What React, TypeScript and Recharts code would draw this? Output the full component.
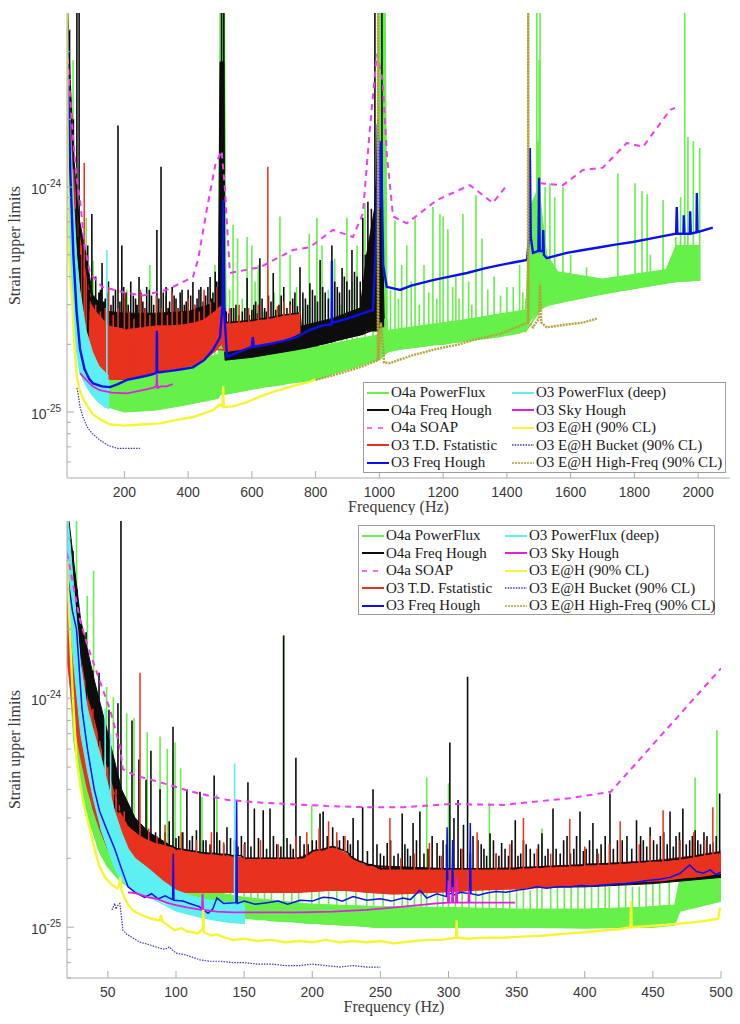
import React from "react";
import { Area, ComposedChart, Legend, Line, XAxis, YAxis } from "recharts";

type P = [number, number | null];
type B = [number, number, number]; // [Hz, low, high]

// strain upper limits are kept in units of 1e-25
const fullTicks = [200, 400, 600, 800, 1000, 1200, 1400, 1600, 1800, 2000];
const zoomTicks = [50, 100, 150, 200, 250, 300, 350, 400, 450, 500];
const strainTicks = [0.6, 0.7, 0.8, 0.9, 1, 2, 3, 4, 5, 6, 7, 8, 9, 10, 20, 30, 40, 50];
const decadeExp: Record<number, string> = { 1: "-25", 10: "-24" };

const legendLeft = ["O4a PowerFlux", "O4a Freq Hough", "O4a SOAP", "O3 T.D. Fstatistic", "O3 Freq Hough"];
const legendRight = ["O3 PowerFlux (deep)", "O3 Sky Hough", "O3 E@H (90% CL)", "O3 E@H Bucket (90% CL)", "O3 E@H High-Freq (90% CL)"];

// ---------- full band, 20-2100 Hz ----------
const fullPowerFluxBand: B[] = [
  [20, 25, 70], [30, 6, 25], [40, 3.3, 12], [60, 2.0, 5], [80, 1.55, 3.0], [100, 1.3, 2.3], [150, 1.05, 1.7],
  [200, 1.0, 1.55], [300, 1.02, 1.6], [400, 1.08, 1.7], [495, 1.15, 1.8], [500, 1.2, 80], [514, 1.2, 80],
  [520, 1.2, 1.85], [650, 1.3, 1.85], [800, 1.4, 1.95], [995, 1.7, 2.2], [1000, 1.7, 80], [1018, 1.8, 80],
  [1025, 1.85, 2.3], [1065, 1.9, 2.35], [1250, 2.05, 2.55], [1460, 2.3, 2.85], [1470, 2.5, 8], [1500, 2.8, 10],
  [1525, 3.0, 5], [1560, 3.05, 4.2], [1700, 3.35, 3.9], [1900, 3.75, 4.3], [1930, 3.8, 5.5], [2005, 3.85, 5.5],
];
const fullPowerFlux: B[] = [
  [20, 25, 80], [22, 25, 40], [24, 20, 80], [27, 12, 20], [30, 8, 30], [34, 5, 12], [39, 4, 36.6], [42, 3.6, 10],
  [50, 2.6, 7], [60, 2.2, 6], [64, 2.0, 4], [80, 1.6, 7.3], [102, 1.35, 4.7], [150, 1.15, 1.7], [208, 1.1, 3.5],
  [280, 1.1, 4.5], [330, 1.12, 3.3], [400, 1.15, 1.7], [440, 1.15, 2.8], [484, 1.18, 4.5], [495, 1.2, 1.8],
  [530, 1.22, 3.5], [541, 1.25, 6.8], [555, 1.25, 5.9], [570, 1.27, 3.2], [585, 1.27, 6.0], [600, 1.28, 5.5],
  [610, 1.28, 3.8], [620, 1.28, 4.5], [635, 1.3, 2.8], [650, 1.3, 4.3], [670, 1.31, 3.4], [688, 1.32, 7.4],
  [700, 1.33, 3.0], [720, 1.35, 5.0], [740, 1.36, 3.6], [760, 1.37, 2.9], [780, 1.38, 6.2], [804, 1.4, 7.3],
  [820, 1.42, 5.5], [840, 1.45, 3.5], [860, 1.5, 4.8], [880, 1.52, 3.0], [898, 1.55, 7.3], [915, 1.57, 3.8],
  [930, 1.6, 5.5], [955, 1.65, 8.5], [980, 1.7, 5.0], [1025, 1.85, 2.5], [1035, 1.88, 3.5], [1049, 1.9, 7.1],
  [1060, 1.9, 3.2], [1070, 1.92, 4.5], [1086, 1.93, 5.5], [1100, 1.94, 3.8], [1112, 1.95, 7.3], [1125, 1.96, 3.0],
  [1140, 1.97, 4.5], [1155, 1.99, 3.4], [1168, 2.0, 8.15], [1180, 2.0, 3.2], [1190, 2.0, 7.6], [1200, 2.0, 7.4],
  [1215, 2.02, 6.5], [1230, 2.04, 3.6], [1240, 2.05, 4.0], [1250, 2.05, 3.2], [1262, 2.07, 7.6], [1280, 2.08, 3.8],
  [1290, 2.09, 3.0], [1303, 2.1, 9.2], [1322, 2.12, 5.9], [1340, 2.13, 3.5], [1360, 2.15, 4.0], [1380, 2.17, 3.3],
  [1400, 2.2, 3.6], [1420, 2.22, 3.6], [1440, 2.25, 4.5], [1450, 2.28, 3.4], [1460, 2.3, 3.2], [1494, 2.7, 80],
  [1497, 2.75, 16], [1501, 2.8, 36.6], [1504, 2.85, 80], [1520, 2.95, 10], [1535, 3.0, 10.4], [1550, 3.03, 9],
  [1576, 3.1, 10], [1600, 3.15, 5], [1650, 3.25, 4.4], [1748, 3.45, 11.5], [1802, 3.55, 10.4], [1824, 3.6, 9.6],
  [1840, 3.62, 9.3], [1850, 3.65, 5], [1890, 3.72, 8.75], [1930, 3.8, 6], [1945, 3.82, 9], [1958, 3.83, 80],
  [1968, 3.84, 16.7], [1985, 3.85, 16], [2005, 3.85, 14.9],
];
const fullFreqHoughO4Band: B[] = [
  [20, 20, 70], [30, 8, 30], [40, 4, 15], [50, 2.8, 9], [60, 2.4, 7], [80, 2.1, 5], [100, 1.9, 3.3],
  [150, 1.8, 2.8], [200, 1.8, 2.75], [300, 1.8, 2.75], [400, 1.8, 2.8], [495, 2.0, 3.1], [500, 2.2, 36],
  [512, 2.2, 36], [516, 1.7, 2.2], [600, 1.75, 2.25], [750, 1.9, 2.4], [850, 2.05, 2.6], [940, 2.2, 2.9],
  [960, 2.3, 5], [985, 2.3, 8], [995, 2.3, 14], [1005, 2.4, 15], [1012, 2.4, 4], [1015, 2.4, 2.6],
];
const fullFreqHoughO4Tall: B[] = [
  [20, 20, 80], [24, 15, 30], [28, 10, 50], [33, 6, 15], [40, 4, 20], [45, 3.5, 8], [51, 2.8, 80], [54, 2.7, 6],
  [58, 2.5, 80], [62, 2.4, 5], [70, 2.3, 6], [75, 2.2, 4], [85, 2.1, 5.5], [90, 3.3, 3.5], [98, 3.05, 7.6],
  [110, 2.85, 4], [120, 2.75, 3.4], [130, 2.65, 4.6], [140, 2.55, 3.2], [150, 2.45, 3.8], [165, 2.42, 3.3],
  [180, 2.4, 18.8], [192, 2.38, 5.5], [205, 2.35, 3.4], [220, 2.37, 3.8], [235, 2.38, 3.2], [246, 2.4, 3.98],
  [258, 2.4, 3.1], [270, 2.42, 3.6], [285, 2.43, 3.3], [302, 2.45, 6.45], [315, 2.45, 12.3], [331, 2.45, 3.6],
  [342, 2.45, 3.1], [350, 2.45, 3.6], [362, 2.46, 3.2], [375, 2.47, 3.4], [388, 2.48, 3.0], [400, 2.5, 3.5],
  [415, 2.52, 3.78], [428, 2.55, 3.2], [440, 2.58, 3.6], [455, 2.65, 3.3], [469, 2.75, 3.98], [478, 2.8, 3.4],
  [485, 2.85, 4.2], [495, 2.95, 3.6], [505, 3.0, 80], [508, 3.0, 30], [512, 3.0, 80], [520, 2.5, 2.8],
  [535, 2.5, 2.9], [550, 2.52, 3.0], [570, 2.53, 2.8], [585, 2.54, 3.94], [600, 2.55, 2.85], [612, 2.57, 3.1],
  [625, 2.59, 4.83], [640, 2.6, 2.9], [652, 2.62, 3.3], [667, 2.64, 4.15], [685, 2.67, 3.0], [700, 2.7, 3.6],
  [720, 2.72, 3.1], [735, 2.74, 3.4], [751, 2.75, 4.4], [768, 1.93, 3.2], [782, 1.95, 3.74], [798, 1.97, 3.3],
  [814, 2.0, 4.74], [830, 2.02, 3.4], [851, 2.05, 5.5], [868, 2.1, 3.6], [883, 2.12, 4.37], [898, 2.15, 3.8],
  [914, 2.18, 5.25], [930, 2.2, 4.0], [948, 2.22, 7.3], [956, 2.25, 5.0], [964, 2.27, 8.6], [975, 2.3, 8],
  [986, 2.3, 80], [990, 2.3, 10], [995, 2.3, 20], [1000, 2.35, 12], [1008, 2.4, 80], [1012, 2.4, 4],
];
const fullFreqHoughO4Dense: B[] = [
  [104, 2.95, 3.3], [115, 2.8, 3.1], [125, 2.7, 3.5], [135, 2.6, 3.1], [145, 2.5, 3.4], [158, 2.43, 3.0],
  [172, 2.41, 3.5], [186, 2.39, 3.1], [198, 2.36, 3.6], [212, 2.36, 3.0], [228, 2.38, 3.3], [240, 2.39, 3.0],
  [252, 2.4, 3.4], [264, 2.41, 2.9], [278, 2.43, 3.5], [292, 2.44, 3.0], [308, 2.45, 3.2], [322, 2.45, 3.4],
  [337, 2.45, 2.9], [356, 2.46, 3.3], [368, 2.47, 2.9], [381, 2.48, 3.5], [394, 2.49, 3.1], [408, 2.51, 3.3],
  [421, 2.53, 3.0], [434, 2.56, 3.5], [447, 2.6, 3.1], [462, 2.7, 3.6], [473, 2.77, 3.2], [490, 2.9, 3.8],
  [528, 2.5, 2.75], [543, 2.51, 2.9], [560, 2.52, 2.7], [578, 2.54, 2.9], [592, 2.55, 2.7], [606, 2.56, 3.0],
  [618, 2.58, 2.75], [632, 2.6, 3.2], [646, 2.61, 2.8], [660, 2.63, 3.1], [675, 2.66, 2.85], [692, 2.69, 3.3],
  [710, 2.71, 2.9], [728, 2.73, 3.2], [743, 2.75, 2.95], [760, 1.92, 3.4], [775, 1.94, 3.0], [790, 1.96, 3.5],
  [806, 1.98, 3.1], [822, 2.01, 3.6], [840, 2.04, 3.2], [860, 2.08, 3.8], [875, 2.11, 3.4], [890, 2.13, 4.0],
  [906, 2.16, 3.5], [922, 2.19, 4.2], [940, 2.21, 3.8],
];
const fullSoap: P[] = [
  [20, 42], [30, 25], [40, 16], [50, 11], [61, 8.75], [75, 5.5], [92, 4.15], [130, 3.6], [208, 3.38],
  [258, 3.3], [333, 3.49], [415, 3.98], [431, 4.74], [459, 8.0], [485, 12.5], [505, 14.5], [515, 10],
  [531, 4.15], [625, 4.4], [729, 5.25], [782, 5.4], [854, 6.45], [917, 6.0], [948, 7.6], [970, 18], [992, 39],
  [1010, 30], [1024, 13.6], [1043, 7.4], [1086, 6.9], [1180, 8.75], [1284, 10.2], [1356, 8.5], [1400, 10.2],
  [1450, null], [1504, 10.4], [1576, 10.2], [1638, 11.9], [1701, 12.2], [1776, 15.7], [1827, 15.1],
  [1912, 22], [1927, 22.5],
];
const fullFstatBand: B[] = [
  [20, 12, 45], [30, 5.5, 20], [40, 3.5, 12], [50, 2.6, 8], [60, 2.2, 6], [80, 1.6, 4.0], [100, 1.45, 3.0],
  [150, 1.4, 2.45], [200, 1.4, 2.35], [250, 1.45, 2.4], [300, 1.5, 2.45], [350, 1.55, 2.45], [400, 1.6, 2.5],
  [450, 1.7, 2.6], [490, 1.9, 2.9], [505, 2.0, 3.0], [515, 1.85, 2.5], [600, 1.95, 2.55], [700, 2.1, 2.7],
  [750, 2.25, 2.75],
];
const fullFstat: B[] = [
  [20, 12, 45], [40, 3.5, 12], [74, 1.7, 12.8], [110, 1.45, 3.0], [125, 1.42, 2.8], [140, 1.4, 2.9],
  [150, 1.4, 3.6], [165, 1.4, 2.7], [180, 1.4, 2.9], [200, 1.4, 3.4], [215, 1.4, 2.8], [230, 1.42, 2.6],
  [250, 1.45, 3.5], [265, 1.46, 2.9], [280, 1.48, 2.7], [300, 1.5, 3.3], [318, 1.5, 2.9], [335, 1.53, 2.7],
  [350, 1.55, 3.4], [365, 1.56, 2.9], [380, 1.58, 2.8], [400, 1.6, 3.2], [420, 1.62, 3.0], [435, 1.66, 2.8],
  [450, 1.7, 3.5], [470, 1.8, 3.1], [490, 1.9, 3.6], [530, 1.88, 2.9], [560, 1.9, 3.0], [590, 1.93, 2.9],
  [620, 1.97, 3.0], [650, 2.0, 12.3], [680, 2.05, 2.95], [700, 2.1, 3.1], [720, 2.15, 3.0], [750, 2.25, 2.8],
];
const fullFreqHoughO3: P[] = [
  [20, 50], [25, 25], [30, 12], [40, 5], [50, 2.8], [61, 1.9], [75, 1.55], [90, 1.4], [102, 1.34], [130, 1.3],
  [155, 1.29], [180, 1.33], [208, 1.39], [240, 1.42], [270, 1.45], [295, 1.48], [301, 1.5], [302, 2.3],
  [303, 1.5], [340, 1.52], [380, 1.55], [415, 1.58], [450, 1.7], [478, 1.89], [500, 2.15], [508, 3],
  [510, 8.75], [512, 3], [522, 1.76], [560, 1.85], [600, 1.95], [603, 2.15], [606, 1.95], [650, 2.0],
  [700, 2.07], [740, 2.15], [782, 2.32], [820, 2.42], [850, 2.45], [851, 4.7], [852, 2.49], [900, 2.6],
  [950, 2.75], [980, 2.84], [990, 6], [995, 19], [1000, 8], [1005, 16], [1012, 4.5], [1023, 3.6], [1065, 3.49],
  [1100, 3.65], [1168, 3.86], [1220, 4.0], [1275, 4.15], [1330, 4.35], [1378, 4.5], [1420, 4.62], [1463, 4.74],
  [1470, 6], [1472, 14.9], [1475, 6], [1482, 5.1], [1499, 5.2], [1501, 11.0], [1503, 5.2], [1513, 5.2],
  [1514, 6.45], [1516, 5.0], [1525, 4.83], [1588, 5.1], [1640, 5.25], [1692, 5.4], [1740, 5.55], [1795, 5.7],
  [1850, 5.9], [1902, 6.1], [1931, 6.2], [1933, 8.15], [1935, 6.2], [1954, 6.2], [1955, 7.5], [1957, 6.2],
  [1974, 6.2], [1975, 7.8], [1977, 6.2], [1995, 6.3], [1996, 9.4], [1998, 6.3], [2046, 6.6],
];
const fullDeepBand: B[] = [
  [20, 15, 70], [25, 7, 30], [30, 4.5, 18], [40, 2.6, 9], [50, 1.85, 5], [60, 1.5, 3.5], [80, 1.3, 2.3],
  [100, 1.18, 1.85], [120, 1.1, 1.6], [140, 1.05, 1.5], [150, 1.04, 1.45],
];
const fullDeep: B[] = [[140, 1.05, 1.45], [145, 1.05, 5.25], [150, 1.04, 1.4]];
const fullSkyHough: P[] = [
  [61, 1.49], [80, 1.39], [100, 1.3], [123, 1.25], [160, 1.22], [208, 1.21], [258, 1.25], [290, 1.28],
  [300, 1.3], [302, 1.48], [304, 1.28], [315, 1.3], [333, 1.3], [352, 1.33],
];
const fullEah: P[] = [
  [20, 70], [22, 12], [24, 6], [30, 4], [36, 3.1], [43, 2], [51, 1.43], [60, 1.25], [70, 1.15], [83, 1.07],
  [100, 0.98], [123, 0.93], [155, 0.88], [200, 0.87], [250, 0.88], [312, 0.89], [360, 0.92], [415, 0.95],
  [478, 1.02], [500, 1.08], [508, 1.06], [510, 1.3], [512, 1.05], [540, 1.06], [580, 1.1], [625, 1.17],
  [660, 1.22], [700, 1.27], [751, 1.33], [782, 1.36], [800, 1.4],
];
const fullBucket: P[] = [
  [51, 1.28], [55, 1.2], [61, 1.05], [70, 0.95], [83, 0.86], [100, 0.8], [123, 0.75], [150, 0.71], [177, 0.69],
  [210, 0.69], [249, 0.69],
];
const fullHighFreq: P[] = [
  [800, 1.39], [850, 1.45], [900, 1.52], [950, 1.6], [995, 1.7], [996, 80], [997, 1.7], [1005, 2.5],
  [1015, 1.66], [1033, 1.65], [1100, 1.78], [1168, 1.89], [1250, 2.0], [1300, 2.1], [1378, 2.22], [1420, 2.35],
  [1466, 2.5], [1467, 80], [1468, 2.5], [1482, 2.38], [1500, 2.6], [1504, 3.7], [1508, 2.5], [1525, 2.38],
  [1588, 2.45], [1640, 2.5], [1682, 2.6],
];

// ---------- zoom, 20-500 Hz ----------
const zoomPowerFluxBand: B[] = [
  [20, 18, 70], [25, 6.5, 30], [30, 4.3, 14], [35, 3.1, 8.5], [40, 2.5, 5.8], [45, 2.05, 4.3], [50, 1.85, 3.4],
  [55, 1.7, 2.9], [60, 1.58, 2.5], [70, 1.45, 2.05], [80, 1.36, 1.85], [90, 1.3, 1.7], [100, 1.25, 1.6],
  [120, 1.17, 1.45], [150, 1.1, 1.35], [200, 1.04, 1.26], [250, 1.0, 1.23], [300, 1.0, 1.22], [350, 1.0, 1.2],
  [400, 0.99, 1.2], [440, 1.0, 1.22], [466, 1.02, 1.25], [470, 1.18, 1.65], [480, 1.22, 1.7], [500, 1.3, 1.75],
];
const zoomPowerFlux: B[] = [
  [20, 18, 80], [21, 16, 30], [22, 14, 45], [24, 9, 40], [26, 6, 35], [27, 5.5, 80], [30, 4.3, 14],
  [34.9, 3.1, 28], [37, 2.8, 7], [39.5, 2.6, 36], [43, 2.2, 4.8], [49.1, 1.87, 11.2], [54, 1.72, 10.1],
  [58, 1.62, 2.6], [63.8, 1.52, 8.6], [69.2, 1.46, 8.2], [73, 1.42, 2.2], [78.9, 1.37, 7.1], [83, 1.35, 2.0],
  [88.3, 1.31, 6.8], [93.6, 1.28, 6.0], [99.3, 1.25, 6.4], [103.4, 1.24, 4.95], [105, 1.23, 2.0],
  [110, 1.21, 1.8], [112, 1.2, 1.9], [119, 1.17, 3.7], [125, 1.16, 1.85], [130, 1.15, 3.8], [135, 1.13, 1.9],
  [140, 1.12, 1.7], [150, 1.1, 1.8], [155, 1.09, 1.7], [160, 1.08, 1.8], [165, 1.08, 1.75], [170, 1.07, 1.6],
  [179, 1.06, 18.8], [185, 1.06, 1.65], [190, 1.05, 1.55], [199.6, 1.04, 3.4], [205, 1.04, 1.6],
  [212, 1.03, 1.5], [218, 1.03, 1.65], [225, 1.02, 1.7], [232, 1.02, 1.55], [240, 1.01, 1.5], [245, 1.0, 1.45],
  [252, 1.0, 1.55], [260, 1.0, 1.6], [266, 1.0, 1.5], [270, 1.0, 1.62], [275, 1.0, 1.45], [280, 1.0, 1.48],
  [284, 1.0, 4.5], [292, 1.0, 1.5], [296, 1.0, 1.55], [300, 1.0, 4.25], [305, 1.0, 1.6], [310, 1.0, 1.5],
  [315, 1.0, 1.5], [320, 1.0, 1.6], [325, 1.0, 1.45], [330, 1.0, 3.5], [335, 1.0, 1.55], [340, 1.0, 1.5],
  [345, 1.0, 1.6], [350, 1.0, 1.7], [355, 1.0, 1.5], [360, 1.0, 1.45], [365, 1.0, 1.55], [368.6, 1.0, 2.7],
  [375, 1.0, 1.6], [380, 1.0, 1.5], [385, 1.0, 1.48], [390, 1.0, 1.55], [395, 1.0, 1.6], [400, 1.0, 1.62],
  [405, 1.0, 1.5], [410, 1.0, 1.8], [415, 1.0, 1.55], [418, 1.0, 1.5], [425, 1.0, 1.7], [430, 1.0, 1.6],
  [435, 1.0, 1.5], [440, 1.0, 1.5], [445, 1.0, 1.6], [450, 1.0, 1.55], [455, 1.01, 2.0], [462, 1.02, 1.6],
  [470, 1.18, 1.9], [481, 1.22, 4.5], [490, 1.26, 2.0], [497, 1.29, 7.25], [500, 1.3, 1.8],
];
const zoomFreqHoughO4Band: B[] = [
  [20, 25, 70], [30, 9, 22], [40, 5, 12], [50, 3.2, 7], [60, 2.4, 4.0], [70, 2.1, 3.0], [80, 1.9, 2.6],
  [100, 1.7, 2.2], [150, 1.6, 2.0], [200, 1.55, 1.95], [250, 1.5, 1.85], [300, 1.48, 1.8], [400, 1.5, 1.82],
  [450, 1.55, 1.88], [500, 1.65, 1.98],
];
const zoomFreqHoughO4Tall: B[] = [
  [20.7, 25, 80], [21.5, 22, 40], [22.5, 20, 50], [23.7, 18, 26], [24.4, 16, 44], [25.5, 14, 20],
  [27.3, 12, 30], [28.5, 10, 14], [30, 9, 18], [31.5, 8, 11], [34, 7, 19.4], [37, 5.5, 8], [39, 5, 13.2],
  [43.5, 4, 12.9], [46.4, 3.6, 7.8], [50.8, 3.4, 8.9], [55, 3.3, 3.8], [57.4, 3.2, 9.5], [59.6, 3.2, 80],
  [63, 2.95, 3.1], [65, 2.8, 3.4], [67.7, 2.7, 8], [72.8, 2.55, 5.4], [78, 2.45, 4.4], [81.6, 2.4, 5.9],
  [85, 2.35, 2.6], [88.3, 2.33, 4], [92, 2.3, 2.6], [95, 2.27, 2.9], [97.8, 2.25, 7.5], [102, 2.2, 2.5],
  [108, 2.17, 4], [112, 2.15, 2.5], [117.6, 2.12, 3.9], [122, 2.1, 2.4], [128, 2.1, 4.6], [132, 2.08, 2.4],
  [137.4, 2.08, 2.73], [143, 2.05, 2.4], [148, 2.05, 2.5], [152.8, 2.0, 4.3], [157.5, 2.0, 3.3],
  [164, 2.0, 3.24], [169, 2.0, 3.3], [174, 2.0, 2.3], [179, 2.0, 18.8], [184, 2.0, 2.3], [188, 2.0, 5.5],
  [194, 2.02, 2.3], [200, 2.15, 2.4], [205.7, 2.18, 3.14], [208, 2.18, 3.2], [215, 2.25, 2.73],
  [220, 2.2, 2.4], [226, 2.12, 2.4], [230, 2.0, 3], [237, 1.92, 3.34], [244.6, 1.87, 4], [250, 1.8, 2.1],
  [255, 1.8, 2.33], [260, 1.8, 2.05], [266, 1.8, 3.14], [270, 1.8, 2.2], [274, 1.8, 2.85], [279, 1.8, 3.2],
  [285, 1.8, 2.2], [291.6, 1.8, 2.33], [296, 1.8, 2.4], [301, 1.8, 6.4], [304, 1.8, 3], [307, 1.8, 3.59],
  [311, 1.8, 2.8], [314, 1.8, 12.4], [318, 1.8, 2.5], [321.6, 1.8, 2.4], [326, 1.8, 2.2], [330.5, 1.8, 2.57],
  [335, 1.8, 2.1], [339, 1.8, 2.33], [344, 1.8, 2.05], [349, 1.8, 2.93], [353, 1.82, 2.1], [357, 1.82, 2.3],
  [363, 1.83, 2.1], [368.6, 1.83, 2.57], [373, 1.84, 2.2], [376.7, 1.84, 3.3], [382, 1.85, 2.1],
  [387, 1.85, 2.5], [392, 1.86, 2.2], [396.5, 1.86, 3.2], [401, 1.88, 2.2], [406, 1.88, 2.85], [412, 1.89, 2.3],
  [418.5, 1.89, 3.84], [424, 1.9, 2.4], [431, 1.91, 2.5], [438, 1.92, 2.93], [443, 1.93, 2.4],
  [448, 1.94, 2.73], [453, 1.95, 2.3], [458, 1.96, 2.6], [462.6, 1.97, 3.2], [467, 1.98, 2.5], [472, 2.0, 3.3],
  [477, 2.02, 2.4], [481, 2.04, 2.65], [485, 2.06, 2.3], [489.7, 2.08, 2.5], [494, 2.1, 2.35], [499, 2.12, 3.84],
];
const zoomFreqHoughO4Dense: B[] = [
  [100, 2.2, 2.45], [105, 2.19, 2.6], [110, 2.16, 2.4], [115, 2.14, 2.65], [120, 2.11, 2.4], [125, 2.1, 2.3],
  [130, 2.09, 2.6], [135, 2.08, 2.3], [140, 2.06, 2.45], [145.5, 2.05, 2.25], [150.5, 2.0, 2.35],
  [155, 2.0, 2.25], [160.5, 2.0, 2.45], [166.5, 2.0, 2.2], [171.5, 2.0, 2.5], [177, 2.0, 2.25],
  [181.5, 2.0, 2.45], [186, 2.0, 2.2], [191, 2.01, 2.5], [197, 2.08, 2.3], [203, 2.17, 2.4], [211, 2.22, 2.5],
  [218, 2.22, 2.4], [223, 2.16, 2.5], [228, 2.05, 2.3], [233.5, 1.95, 2.4], [240.5, 1.88, 2.15],
  [247.5, 1.83, 2.3], [252.5, 1.8, 2.05], [257.5, 1.8, 2.4], [263, 1.8, 2.1], [268, 1.8, 2.3], [272, 1.8, 2.05],
  [276.5, 1.8, 2.4], [282, 1.8, 2.1], [288, 1.8, 2.5], [293.5, 1.8, 2.05], [298.5, 1.8, 2.3], [309, 1.8, 2.2],
  [316, 1.8, 2.1], [324, 1.8, 2.3], [328, 1.8, 2.05], [333, 1.8, 2.4], [337, 1.8, 2.05], [341.5, 1.8, 2.2],
  [346.5, 1.8, 2.4], [351, 1.81, 2.05], [355, 1.82, 2.4], [360, 1.82, 2.2], [366, 1.83, 2.3], [371, 1.84, 2.05],
  [379, 1.85, 2.2], [384.5, 1.85, 2.4], [389.5, 1.86, 2.1], [394, 1.86, 2.5], [399, 1.87, 2.15],
  [403.5, 1.88, 2.4], [409, 1.88, 2.2], [415, 1.89, 2.5], [421, 1.9, 2.2], [427.5, 1.91, 2.4],
  [434.5, 1.92, 2.2], [441, 1.93, 2.5], [445.5, 1.94, 2.25], [450.5, 1.95, 2.4], [455.5, 1.95, 2.5],
  [460.5, 1.96, 2.3], [465, 1.98, 2.25], [469.5, 1.99, 2.6], [474.5, 2.01, 2.3], [479, 2.03, 2.5],
  [483, 2.05, 2.4], [487.5, 2.07, 2.6], [492, 2.09, 2.3], [496.5, 2.11, 2.5],
];
const zoomSoap: P[] = [
  [20, 43], [29.5, 22], [35, 17], [42, 12.9], [51.6, 8.9], [59, 6.1], [61, 4.9], [70, 4.6], [88, 4.3],
  [112, 3.9], [137, 3.6], [162, 3.5], [211, 3.38], [242, 3.34], [267, 3.34], [301, 3.45], [340, 3.42],
  [389, 3.66], [419, 3.9], [500, 13.5],
];
const zoomFstatBand: B[] = [
  [20, 15, 45], [25, 8, 25], [30, 5.5, 15], [35, 4, 10], [40, 3.2, 8], [45, 2.6, 6], [50, 2.2, 4.8],
  [55, 1.95, 3.8], [60, 1.75, 3.2], [65, 1.55, 2.8], [70, 1.45, 2.6], [80, 1.42, 2.4], [100, 1.42, 2.2],
  [120, 1.42, 2.1], [150, 1.42, 2.0], [190, 1.42, 2.0], [200, 1.44, 2.15], [215, 1.45, 2.25], [228, 1.45, 2.05],
  [240, 1.42, 1.85], [260, 1.4, 1.8], [300, 1.43, 1.78], [350, 1.48, 1.82], [400, 1.52, 1.88], [450, 1.6, 1.95],
  [480, 1.66, 2.05], [500, 1.72, 2.15],
];
const zoomFstat: B[] = [
  [20, 15, 40], [22, 13, 18], [24, 10, 30], [26, 9, 12], [28, 7, 20], [33, 5, 12], [39, 3.3, 9], [44, 2.7, 6.5],
  [50, 2.2, 5], [56, 1.9, 4.0], [62, 1.65, 3.2], [70, 1.45, 2.6], [73.6, 1.45, 12.9], [80, 1.42, 2.7],
  [86, 1.42, 2.5], [92, 1.42, 2.8], [104, 1.42, 2.6], [115, 1.42, 2.4], [126, 1.42, 2.6], [135, 1.42, 2.35],
  [150, 1.42, 2.3], [162, 1.42, 2.4], [175, 1.42, 2.3], [188, 1.42, 2.5], [196, 1.43, 2.6], [205, 1.44, 2.7],
  [212, 1.45, 2.9], [218, 1.45, 2.6], [224, 1.45, 2.5], [257, 1.4, 3.0], [265, 1.4, 2.0], [275, 1.41, 2.1],
  [286, 1.42, 2.33], [295, 1.43, 2.05], [310, 1.44, 2.2], [321, 1.46, 2.6], [335, 1.46, 2.1], [345, 1.47, 2.3],
  [355, 1.48, 3.0], [365, 1.49, 2.2], [375, 1.5, 2.1], [389, 1.52, 2.97], [400, 1.52, 2.25], [410, 1.53, 2.1],
  [418, 1.54, 2.3], [426, 1.57, 2.9], [440, 1.58, 2.3], [448, 1.59, 2.5], [457.5, 1.6, 3.24], [470, 1.64, 2.4],
  [480, 1.66, 2.6], [488, 1.68, 2.4], [494, 1.7, 3.34], [500, 1.72, 2.15],
];
const zoomFreqHoughO3: P[] = [
  [20, 36], [24, 24], [27, 20], [31, 9], [35, 6], [40, 4], [44, 3.2], [50, 2.6], [55, 2.2], [60, 1.8],
  [64.8, 1.5], [70, 1.42], [77, 1.35], [82, 1.4], [87, 1.33], [92, 1.37], [97.5, 1.32], [98, 2.1], [98.5, 1.31],
  [105, 1.3], [110, 1.27], [117, 1.23], [123.5, 1.15], [127, 1.2], [130, 1.34], [135, 1.27], [144, 1.28],
  [144.5, 3.6], [145, 1.27], [150, 1.3], [158, 1.26], [166.8, 1.28], [175, 1.3], [182, 1.26], [191, 1.31],
  [200, 1.3], [208, 1.35], [215, 1.34], [222, 1.3], [230, 1.36], [240, 1.31], [250, 1.33], [258, 1.3],
  [266.6, 1.34], [272, 1.32], [279, 1.45], [284, 1.34], [291.5, 1.4], [298.5, 1.36], [299, 2.73], [299.5, 1.4],
  [302.5, 1.4], [303, 2.4], [303.5, 1.38], [309, 1.42], [315.5, 1.4], [316, 2.85], [316.5, 1.4], [322, 1.38],
  [328, 1.41], [335, 1.43], [342, 1.42], [350, 1.45], [358, 1.47], [365, 1.5], [372, 1.48], [380, 1.5],
  [389, 1.5], [397, 1.52], [405, 1.51], [413, 1.53], [420, 1.54], [430, 1.55], [438, 1.57], [446, 1.6],
  [455, 1.62], [462.6, 1.65], [470, 1.72], [477, 1.87], [482, 1.75], [487, 1.72], [492, 1.78], [496, 1.7],
  [500, 1.74],
];
const zoomDeepBand: B[] = [
  [20, 30, 70], [25, 14, 30], [30, 7, 14], [35, 4.8, 9], [40, 3.5, 7], [45, 2.7, 5.5], [50, 2.2, 4.2],
  [55, 1.8, 3.2], [60, 1.6, 2.6], [65, 1.5, 2.2], [70, 1.42, 2.0], [80, 1.36, 1.8], [90, 1.3, 1.6],
  [100, 1.18, 1.45], [110, 1.14, 1.38], [120, 1.1, 1.33], [130, 1.07, 1.3], [140, 1.05, 1.28],
  [150, 1.04, 1.26],
];
const zoomDeep: B[] = [
  [45, 2.7, 3.5], [48, 2.4, 9], [52, 2.05, 7], [60, 1.6, 1.6], [80, 1.36, 1.36], [100, 1.18, 1.18],
  [120, 1.1, 1.1], [140, 1.05, 1.28], [143, 1.05, 5.2], [150, 1.04, 1.25],
];
const zoomSkyHough: P[] = [
  [64.8, 1.42], [70, 1.41], [75, 1.38], [80, 1.35], [86, 1.33], [93, 1.28], [100, 1.25], [108, 1.22],
  [119, 1.19], [119.5, 1.4], [120, 1.19], [130, 1.17], [142, 1.16], [160, 1.16], [191, 1.16], [215, 1.17],
  [240, 1.19], [266.6, 1.23], [291.5, 1.27], [299.5, 1.28], [300, 1.6], [300.5, 1.28], [302.5, 1.28],
  [303, 1.5], [303.5, 1.28], [305.5, 1.28], [306, 1.65], [306.5, 1.28], [314.5, 1.28], [315, 1.45],
  [315.5, 1.28], [330, 1.28], [349, 1.28],
];
const zoomEah: P[] = [
  [20, 40], [22, 20], [24, 11], [27, 5.4], [30, 4.1], [32, 3.5], [34.7, 3.0], [38, 2.5], [41, 2.1], [44, 1.83],
  [48, 1.65], [52, 1.55], [56.7, 1.48], [58, 1.5], [59, 1.65], [60, 1.45], [62, 1.35], [65, 1.25], [68, 1.19],
  [72, 1.15], [76, 1.12], [80, 1.1], [84, 1.08], [88, 1.07], [89, 1.13], [90, 1.06], [94, 1.02], [99, 0.97],
  [104, 0.99], [108, 0.96], [112, 0.95], [116, 0.94], [119.5, 0.98], [120, 1.19], [120.5, 0.95], [126, 0.92],
  [130, 0.93], [136, 0.9], [142, 0.88], [150, 0.89], [160, 0.87], [170, 0.88], [180, 0.86], [191, 0.87],
  [200, 0.86], [210, 0.88], [220, 0.86], [230, 0.87], [240, 0.86], [250, 0.87], [260, 0.85], [266.6, 0.86],
  [275, 0.87], [285, 0.88], [295, 0.88], [305.5, 0.9], [306, 1.07], [306.5, 0.9], [315, 0.89], [325, 0.9],
  [340, 0.9], [355, 0.91], [370, 0.92], [389, 0.94], [400, 0.95], [415, 0.97], [425, 0.98], [433.5, 1.0],
  [434, 1.3], [434.5, 1.0], [445, 1.01], [455, 1.02], [465, 1.03], [472, 1.04], [480, 1.05], [490, 1.07],
  [498, 1.09], [499, 1.2], [500, 1.2],
];
const zoomBucket: P[] = [
  [53, 1.19], [55, 1.27], [56, 1.2], [57, 1.24], [58.8, 1.27], [60, 1.1], [61, 0.97], [64, 0.93], [68, 0.9],
  [73.6, 0.86], [80, 0.84], [88, 0.81], [92, 0.8], [95, 0.82], [100, 0.77], [106, 0.76], [112, 0.74],
  [117.6, 0.72], [125, 0.71], [133, 0.71], [142, 0.7], [150, 0.7], [160, 0.69], [170, 0.69], [180, 0.68],
  [191, 0.68], [200, 0.69], [210, 0.68], [220, 0.67], [230, 0.68], [240, 0.67], [250, 0.67],
];

// ---------- styling ----------
const AXIS = "#ababab";
const LABEL = "#3a3a3a";
const SANS = "'Liberation Sans', Arial, Helvetica, sans-serif";
const SERIF = "'Liberation Serif', 'Times New Roman', serif";

// layer: z order of the band / trace, spikeLayer: z order of the vertical excursions
const looks: Record<string, { color: string; width: number; dash?: string; layer: number; spikeLayer?: number }> = {
  "O4a PowerFlux": { color: "#66f04a", width: 1.6, layer: 101, spikeLayer: 102 },
  "O4a Freq Hough": { color: "#0d0d0d", width: 1.6, layer: 103, spikeLayer: 105 },
  "O3 T.D. Fstatistic": { color: "#e8321e", width: 1.5, layer: 104, spikeLayer: 106 },
  "O3 PowerFlux (deep)": { color: "#5cf0f2", width: 1.6, layer: 107, spikeLayer: 108 },
  "O3 Freq Hough": { color: "#0b10f0", width: 1.5, layer: 109 },
  "O3 Sky Hough": { color: "#e21ee2", width: 1.8, layer: 110 },
  "O4a SOAP": { color: "#f03cf0", width: 2, dash: "6 5", layer: 111 },
  "O3 E@H (90% CL)": { color: "#f7f531", width: 2.4, layer: 112 },
  "O3 E@H Bucket (90% CL)": { color: "#3a3ab8", width: 1.2, dash: "1.5 1.2", layer: 113 },
  "O3 E@H High-Freq (90% CL)": { color: "#b3a33a", width: 2.4, dash: "2 1", layer: 114 },
};

const pts = (a: P[]) => a.map(([f, v]) => ({ f, v }));
const rng = (a: B[]) => a.map(([f, lo, hi]) => ({ f, r: [lo, hi] }));
// each entry is a vertical excursion from its low value up to its high value
const excursions = (a: B[]) =>
  [...a].sort((p, q) => p[0] - q[0]).flatMap(([f, lo, hi]) => [{ f, v: lo }, { f, v: hi }, { f, v: lo }]);

const band = (data: B[], name: string) => (
  <Area
    key={name + "-band"}
    data={rng(data)}
    dataKey="r"
    type="linear"
    fill={looks[name].color}
    fillOpacity={1}
    stroke={looks[name].color}
    strokeWidth={1}
    dot={false}
    activeDot={false}
    isAnimationActive={false}
    {...({ zIndex: looks[name].layer } as any)}
  />
);

const lineOf = (data: { f: number; v: number | null }[], name: string, key: string, layer: number, width?: number) => (
  <Line
    key={key}
    data={data}
    dataKey="v"
    type="linear"
    stroke={looks[name].color}
    strokeWidth={width ?? looks[name].width}
    strokeDasharray={looks[name].dash}
    dot={false}
    activeDot={false}
    isAnimationActive={false}
    {...({ zIndex: layer } as any)}
  />
);
const trace = (data: P[], name: string, width?: number) =>
  lineOf(pts(data), name, name + "-trace", looks[name].layer, width);
const spikes = (data: B[], name: string) =>
  lineOf(excursions(data), name, name + "-spikes", looks[name].spikeLayer ?? looks[name].layer);

const BottomTick = (p: any) => (
  <g>
    <line x1={p.x} x2={p.x} y1={p.y} y2={p.y - 7} stroke={AXIS} />
    <text x={p.x} y={p.y + 19} textAnchor="middle" fontFamily={SANS} fontSize={14} fill={LABEL}>
      {p.payload.value}
    </text>
  </g>
);
const TopTick = (p: any) => <line x1={p.x} x2={p.x} y1={p.y} y2={p.y + 7} stroke={AXIS} />;

const LeftTick = (p: any) => {
  const exp = decadeExp[p.payload.value];
  return (
    <g>
      <line x1={p.x} x2={p.x + (exp ? 7 : 4)} y1={p.y} y2={p.y} stroke={AXIS} />
      {exp && (
        <text x={p.x - 6} y={p.y + 7} textAnchor="end" fontFamily={SANS} fontSize={14} fill={LABEL}>
          <tspan>10</tspan>
          <tspan dy={-7} fontSize={10}>{exp}</tspan>
        </text>
      )}
    </g>
  );
};
const RightTick = (p: any) => {
  const major = !!decadeExp[p.payload.value];
  return <line x1={p.x} x2={p.x - (major ? 7 : 4)} y1={p.y} y2={p.y} stroke={AXIS} />;
};

const xTitle = ({ viewBox }: any) => (
  <text x={viewBox.x + viewBox.width / 2} y={viewBox.y + 34} textAnchor="middle" fontFamily={SERIF} fontSize={16} fill={LABEL}>
    Frequency (Hz)
  </text>
);
const yTitle = ({ viewBox }: any) => {
  const cx = viewBox.x + 8;
  const cy = viewBox.y + viewBox.height / 2;
  return (
    <text x={cx} y={cy} transform={`rotate(-90 ${cx} ${cy})`} textAnchor="middle" fontFamily={SERIF} fontSize={16} fill={LABEL}>
      Strain upper limits
    </text>
  );
};

function LegendBox({ col2 }: { col2: number }) {
  const entry = (name: string) => {
    const s = looks[name];
    return (
      <div key={name} style={{ height: 17.5, display: "flex", alignItems: "center", whiteSpace: "nowrap" }}>
        <svg width={22} height={8} style={{ flex: "none" }}>
          <line x1={0} x2={22} y1={4} y2={4} stroke={s.color} strokeWidth={s.dash ? 1.6 : 2} strokeDasharray={s.dash === "6 5" ? "5 6" : s.dash} />
        </svg>
        <span style={{ marginLeft: 2 }}>{name}</span>
      </div>
    );
  };
  return (
    <div
      style={{
        position: "relative",
        width: "100%",
        height: "100%",
        boxSizing: "border-box",
        border: "1px solid #9c9c9c",
        background: "#fff",
        fontFamily: SERIF,
        fontSize: 15,
        color: "#1a1a1a",
      }}
    >
      <div style={{ position: "absolute", left: 3, top: 1 }}>{legendLeft.map(entry)}</div>
      <div style={{ position: "absolute", left: col2, top: 1 }}>{legendRight.map(entry)}</div>
    </div>
  );
}

type PanelProps = {
  height: number;
  margin: { top: number; right: number; bottom: number; left: number };
  xDomain: [number, number];
  xTicks: number[];
  yDomain: [number, number];
  legend: { left: number; top: number; width: number; height: number; col2: number };
  children: React.ReactNode;
};

function Panel({ height, margin, xDomain, xTicks, yDomain, legend, children }: PanelProps) {
  const yTicks = strainTicks.filter((t) => t >= yDomain[0] && t <= yDomain[1]);
  return (
    <ComposedChart width={740} height={height} margin={margin}>
      <XAxis
        type="number"
        dataKey="f"
        domain={xDomain}
        ticks={xTicks}
        interval={0}
        allowDataOverflow
        height={30}
        tickSize={0}
        tickMargin={0}
        axisLine={{ stroke: AXIS }}
        tickLine={false}
        tick={(p: any) => <BottomTick {...p} />}
        label={xTitle}
      />
      <XAxis
        xAxisId="top"
        orientation="top"
        type="number"
        dataKey="f"
        domain={xDomain}
        ticks={xTicks}
        interval={0}
        allowDataOverflow
        height={0}
        tickSize={0}
        tickMargin={0}
        axisLine={{ stroke: AXIS }}
        tickLine={false}
        tick={(p: any) => <TopTick {...p} />}
      />
      <YAxis
        type="number"
        scale="log"
        domain={yDomain}
        ticks={yTicks}
        interval={0}
        allowDataOverflow
        width={55}
        tickSize={0}
        tickMargin={0}
        axisLine={{ stroke: AXIS }}
        tickLine={false}
        tick={(p: any) => <LeftTick {...p} />}
        label={yTitle}
      />
      <YAxis
        yAxisId="right"
        orientation="right"
        type="number"
        scale="log"
        domain={yDomain}
        ticks={yTicks}
        interval={0}
        allowDataOverflow
        width={0}
        tickSize={0}
        tickMargin={0}
        axisLine={{ stroke: AXIS }}
        tickLine={false}
        tick={(p: any) => <RightTick {...p} />}
      />
      {children}
      <Legend
        layout="horizontal"
        verticalAlign="middle"
        align="center"
        wrapperStyle={{ left: legend.left, top: legend.top, width: legend.width, height: legend.height }}
        content={() => <LegendBox col2={legend.col2} />}
      />
    </ComposedChart>
  );
}

export default function App() {
  return (
    <div style={{ position: "absolute", left: 0, top: 0, width: 740, background: "#fff" }}>
      <Panel
        height={515}
        margin={{ top: 13, right: 10, bottom: 7, left: 12 }}
        xDomain={[20, 2100]}
        xTicks={fullTicks}
        yDomain={[0.509, 59.4]}
        legend={{ left: 363, top: 382, width: 363, height: 91, col2: 148 }}
      >
        {band(fullPowerFluxBand, "O4a PowerFlux")}
        {spikes(fullPowerFlux, "O4a PowerFlux")}
        {band(fullFreqHoughO4Band, "O4a Freq Hough")}
        {spikes([...fullFreqHoughO4Tall, ...fullFreqHoughO4Dense], "O4a Freq Hough")}
        {band(fullFstatBand, "O3 T.D. Fstatistic")}
        {spikes(fullFstat, "O3 T.D. Fstatistic")}
        {band(fullDeepBand, "O3 PowerFlux (deep)")}
        {spikes(fullDeep, "O3 PowerFlux (deep)")}
        {trace(fullFreqHoughO3, "O3 Freq Hough", 2.4)}
        {trace(fullSkyHough, "O3 Sky Hough")}
        {trace(fullSoap, "O4a SOAP")}
        {trace(fullEah, "O3 E@H (90% CL)")}
        {trace(fullBucket, "O3 E@H Bucket (90% CL)")}
        {trace(fullHighFreq, "O3 E@H High-Freq (90% CL)")}
      </Panel>
      <Panel
        height={509}
        margin={{ top: 6, right: 19, bottom: 16, left: 12 }}
        xDomain={[20, 500]}
        xTicks={zoomTicks}
        yDomain={[0.6, 59.4]}
        legend={{ left: 358, top: 10, width: 357, height: 90, col2: 146 }}
      >
        {band(zoomPowerFluxBand, "O4a PowerFlux")}
        {spikes(zoomPowerFlux, "O4a PowerFlux")}
        {band(zoomFreqHoughO4Band, "O4a Freq Hough")}
        {spikes([...zoomFreqHoughO4Tall, ...zoomFreqHoughO4Dense], "O4a Freq Hough")}
        {band(zoomFstatBand, "O3 T.D. Fstatistic")}
        {spikes(zoomFstat, "O3 T.D. Fstatistic")}
        {band(zoomDeepBand, "O3 PowerFlux (deep)")}
        {spikes(zoomDeep, "O3 PowerFlux (deep)")}
        {trace(zoomFreqHoughO3, "O3 Freq Hough")}
        {trace(zoomSkyHough, "O3 Sky Hough")}
        {trace(zoomSoap, "O4a SOAP")}
        {trace(zoomEah, "O3 E@H (90% CL)")}
        {trace(zoomBucket, "O3 E@H Bucket (90% CL)")}
      </Panel>
    </div>
  );
}
